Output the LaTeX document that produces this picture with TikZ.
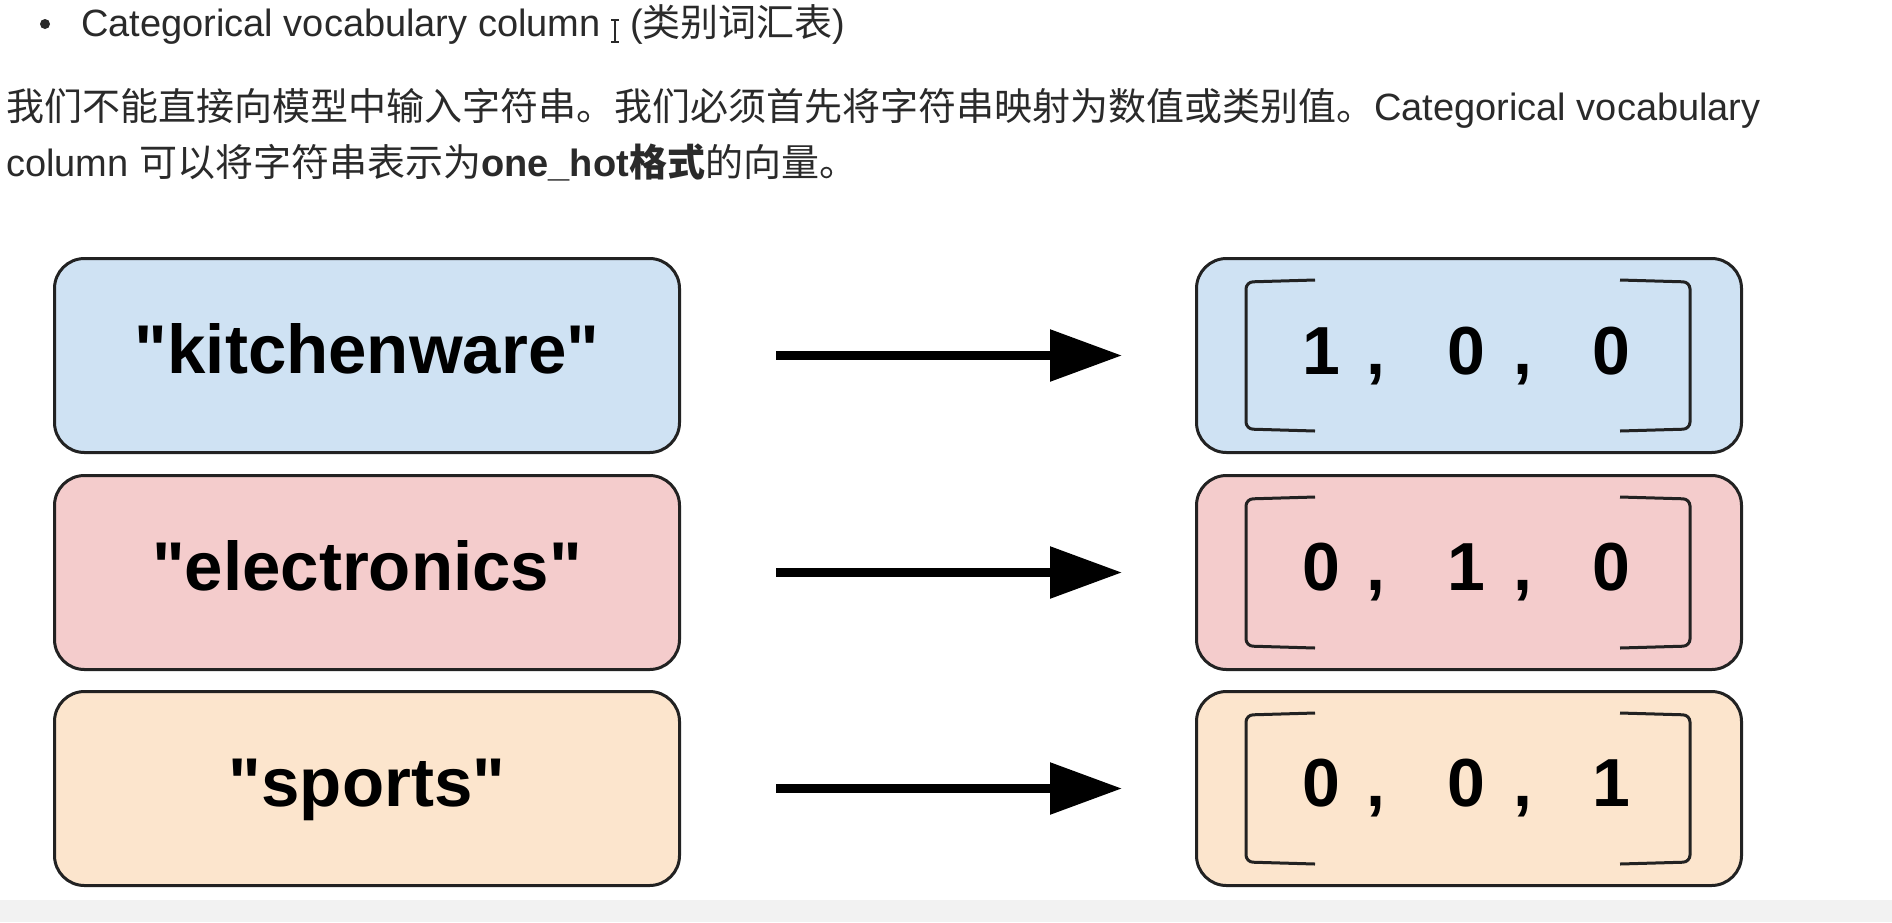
\documentclass[tikz,border=0pt]{standalone}
\usepackage{fontspec}
\setmainfont{Liberation Sans}[Ligatures=TeXOff]
\newfontfamily\cjk{Noto Sans CJK SC}
\usetikzlibrary{arrows.meta,calc}
\definecolor{bluefill}{HTML}{CFE2F3}
\definecolor{redfill}{HTML}{F4CCCC}
\definecolor{orangefill}{HTML}{FCE5CD}
\definecolor{txt}{HTML}{2A2A2A}
\definecolor{edge}{HTML}{222222}
\begin{document}
\begin{tikzpicture}[x=1pt,y=-1pt,
  box/.style={draw=edge, line width=3pt, rounded corners=30pt, minimum height=194pt,
    inner sep=0pt, anchor=north west, text height=35pt, text depth=0pt,
    font=\fontsize{69}{80}\selectfont\bfseries},
  lbox/.style={box, minimum width=625pt},
  rbox/.style={box, minimum width=545pt},
  num/.style={anchor=base, inner sep=0pt, font=\fontsize{68}{80}\selectfont\bfseries},
  para/.style={anchor=base west, inner sep=0pt, text=txt, font=\fontsize{38}{46}\selectfont},
  arr/.style={line width=9pt, -{Triangle[length=72pt,width=50pt]}, shorten <=95pt, shorten >=73pt},
  brk/.style={line width=3pt, draw=edge, rounded corners=7pt},
]
\useasboundingbox (0,0) rectangle (1892,922);
\fill[white] (0,0) rectangle (1892,922);
\fill[black!5] (0,900) rectangle (1892,922);

% heading line
\fill[txt] (45,24) circle (5pt);
\node[para] (t1) at (81,36) {Categorical vocabulary column};
\draw[txt, line width=1.5pt] (611,20) -- (619,20) (615,20) -- (615,42) (611,42) -- (619,42);
\node[para] (t2) at (630,36) {({\cjk 类别词汇表})};

% paragraph
\node[para] (p1) at (6,120) {{\cjk 我们不能直接向模型中输入字符串。我们必须首先将字符串映射为数值或类别值。}Categorical vocabulary};
\node[para] (p2) at (6,176) {column {\cjk 可以将字符串表示为}\textbf{one\_hot{\cjk 格式}}{\cjk 的向量。}};

% left boxes
\node[lbox, fill=bluefill] (l1) at (53,257) {"kitchenware"};
\node[lbox, fill=redfill] (l2) at (53,474) {"electronics"};
\node[lbox, fill=orangefill] (l3) at (53,690) {"sports"};

% right boxes
\node[rbox, fill=bluefill] (r1) at (1195,257) {};
\node[rbox, fill=redfill] (r2) at (1195,474) {};
\node[rbox, fill=orangefill] (r3) at (1195,690) {};

% arrows
\draw[arr] (l1.east) -- (r1.west);
\draw[arr] (l2.east) -- (r2.west);
\draw[arr] (l3.east) -- (r3.west);

% brackets
\foreach \b in {r1,r2,r3}{
  \draw[brk] ($(\b.north west)+(120,23)$) -- ($(\b.north west)+(51,25)$) -- ($(\b.south west)+(51,-25)$) -- ($(\b.south west)+(120,-23)$);
  \draw[brk] ($(\b.north east)+(-123,23)$) -- ($(\b.north east)+(-53,25)$) -- ($(\b.south east)+(-53,-25)$) -- ($(\b.south east)+(-123,-23)$);
}

% numbers
\node[num] (a1) at (1321,374) {1};
\node[num] (a2) at (1376,374) {,};
\node[num] (a3) at (1466,374) {0};
\node[num] (a4) at (1523,374) {,};
\node[num] (a5) at (1611,374) {0};

\node[num] (b1) at (1321,590) {0};
\node[num] (b2) at (1376,590) {,};
\node[num] (b3) at (1466,590) {1};
\node[num] (b4) at (1523,590) {,};
\node[num] (b5) at (1611,590) {0};

\node[num] (c1) at (1321,806) {0};
\node[num] (c2) at (1376,806) {,};
\node[num] (c3) at (1466,806) {0};
\node[num] (c4) at (1523,806) {,};
\node[num] (c5) at (1611,806) {1};
\end{tikzpicture}
\end{document}
